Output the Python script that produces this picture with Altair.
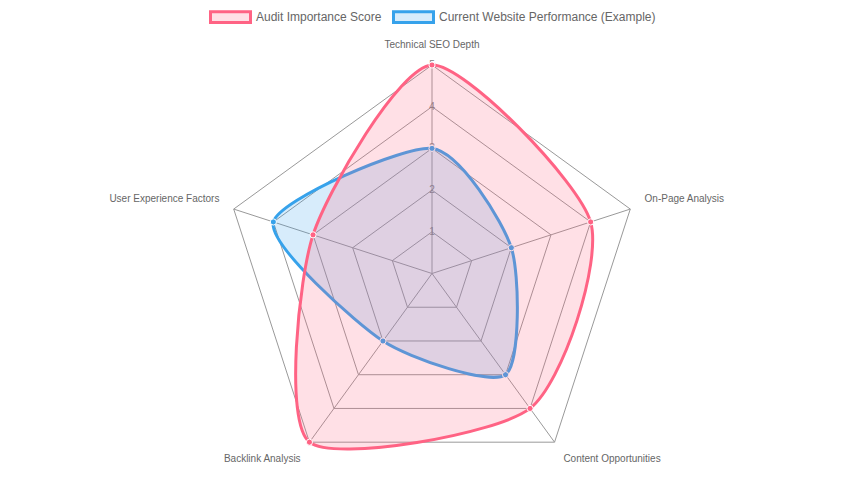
import math

import altair as alt
import pandas as pd

categories = [
    "Technical SEO Depth",
    "On-Page Analysis",
    "Content Opportunities",
    "Backlink Analysis",
    "User Experience Factors",
]
audit_importance = [5, 4, 4, 5, 3]
current_performance = [3, 2, 3, 2, 4]
series_names = ["Audit Importance Score", "Current Website Performance (Example)"]
tick_values = [1, 2, 3, 4, 5]
scale_max = 5

line_colors = ["rgb(255, 99, 132)", "rgb(54, 162, 235)"]
fill_colors = ["rgba(255, 99, 132, 0.2)", "rgba(54, 162, 235, 0.2)"]
font = "Liberation Sans"


def polar(r, i):
    angle = 2 * math.pi * i / len(categories)
    return r * math.sin(angle), r * math.cos(angle)


# data points of both series
rows = []
for name, values in zip(series_names, [audit_importance, current_performance]):
    for i, (cat, v) in enumerate(zip(categories, values)):
        x, y = polar(v, i)
        rows.append({"series": name, "category": cat, "idx": i, "value": v, "x": x, "y": y})
points = pd.DataFrame(rows)

# pentagon grid
grid = pd.DataFrame(
    [{"ring": t, "idx": i, "x": polar(t, i)[0], "y": polar(t, i)[1]}
     for t in tick_values for i in range(len(categories))]
)

# angle lines
spokes = pd.DataFrame(
    [{"category": c, "x": 0.0, "y": 0.0, "x2": polar(scale_max, i)[0], "y2": polar(scale_max, i)[1]}
     for i, c in enumerate(categories)]
)

ticks = pd.DataFrame({"label": [str(t) for t in tick_values], "x": 0.0, "y": tick_values})

# point labels just outside the outer ring
label_rows = []
for i, c in enumerate(categories):
    x, y = polar(scale_max + 0.36, i)
    align = "center" if abs(x) < 1e-6 else ("left" if x > 0 else "right")
    baseline = "bottom" if y > 0 else "top"
    label_rows.append({"category": c, "x": x, "y": y, "align": align, "baseline": baseline})
labels = pd.DataFrame(label_rows)

px_per_unit = 208.5 / scale_max
W, H = 848, 484
cx, cy = 424, 265.5
x_scale = alt.Scale(domain=[-cx / px_per_unit, (W - cx) / px_per_unit], nice=False, zero=False)
y_scale = alt.Scale(domain=[-(H - cy) / px_per_unit, cy / px_per_unit], nice=False, zero=False)
X = alt.X("x:Q", scale=x_scale, axis=None)
Y = alt.Y("y:Q", scale=y_scale, axis=None)

legend = alt.Legend(
    title=None,
    orient="none",
    legendX=201,
    legendY=-12.5,
    direction="horizontal",
    symbolType="M-1,-0.27H1V0.27H-1Z",
    symbolSize=1600,
    symbolStrokeWidth=3,
    labelFont=font,
    labelFontSize=12,
    labelColor="#666",
    labelOffset=4,
    labelLimit=500,
    columnPadding=5,
    padding=0,
)
fill_scale = alt.Scale(domain=series_names, range=fill_colors)
stroke_scale = alt.Scale(domain=series_names, range=line_colors)

grid_layer = alt.Chart(grid).mark_line(interpolate="linear-closed", stroke="#999", strokeWidth=1).encode(
    x=X, y=Y, detail="ring:N", order="idx:Q"
)
spoke_layer = alt.Chart(spokes).mark_rule(stroke="#999", strokeWidth=1).encode(
    x=X, y=Y, x2="x2:Q", y2="y2:Q"
)
tick_layer = alt.Chart(ticks).mark_text(font=font, fontSize=10, color="#808080", baseline="middle").encode(
    x=X, y=Y, text="label:N"
)


def series_layers(name):
    base = alt.Chart(points).transform_filter(alt.datum.series == name)
    shape = base.mark_line(interpolate="cardinal-closed", tension=0.3, strokeWidth=3).encode(
        x=X,
        y=Y,
        order="idx:Q",
        fill=alt.Fill("series:N", scale=fill_scale, legend=legend),
        stroke=alt.Stroke("series:N", scale=stroke_scale, legend=legend),
    )
    dots = base.mark_circle(size=38, opacity=1, stroke="white", strokeWidth=1).encode(
        x=X,
        y=Y,
        color=alt.Color("series:N", scale=stroke_scale, legend=None),
        tooltip=["category", "value"],
    )
    return [shape, dots]


label_layers = []
for (align, baseline), _ in labels.groupby(["align", "baseline"]):
    label_layers.append(
        alt.Chart(labels)
        .transform_filter((alt.datum.align == align) & (alt.datum.baseline == baseline))
        .mark_text(font=font, fontSize=10, color="#666", align=align, baseline=baseline)
        .encode(x=X, y=Y, text="category:N")
    )

chart = (
    alt.layer(
        grid_layer,
        spoke_layer,
        tick_layer,
        *series_layers(series_names[1]),
        *series_layers(series_names[0]),
        *label_layers,
    )
    .properties(width=W, height=H, padding=0, autosize=alt.AutoSizeParams(type="none"), background="white")
    .configure_view(strokeWidth=0)
)

chart.save("out.html", embed_options={"renderer": "svg", "actions": False})
